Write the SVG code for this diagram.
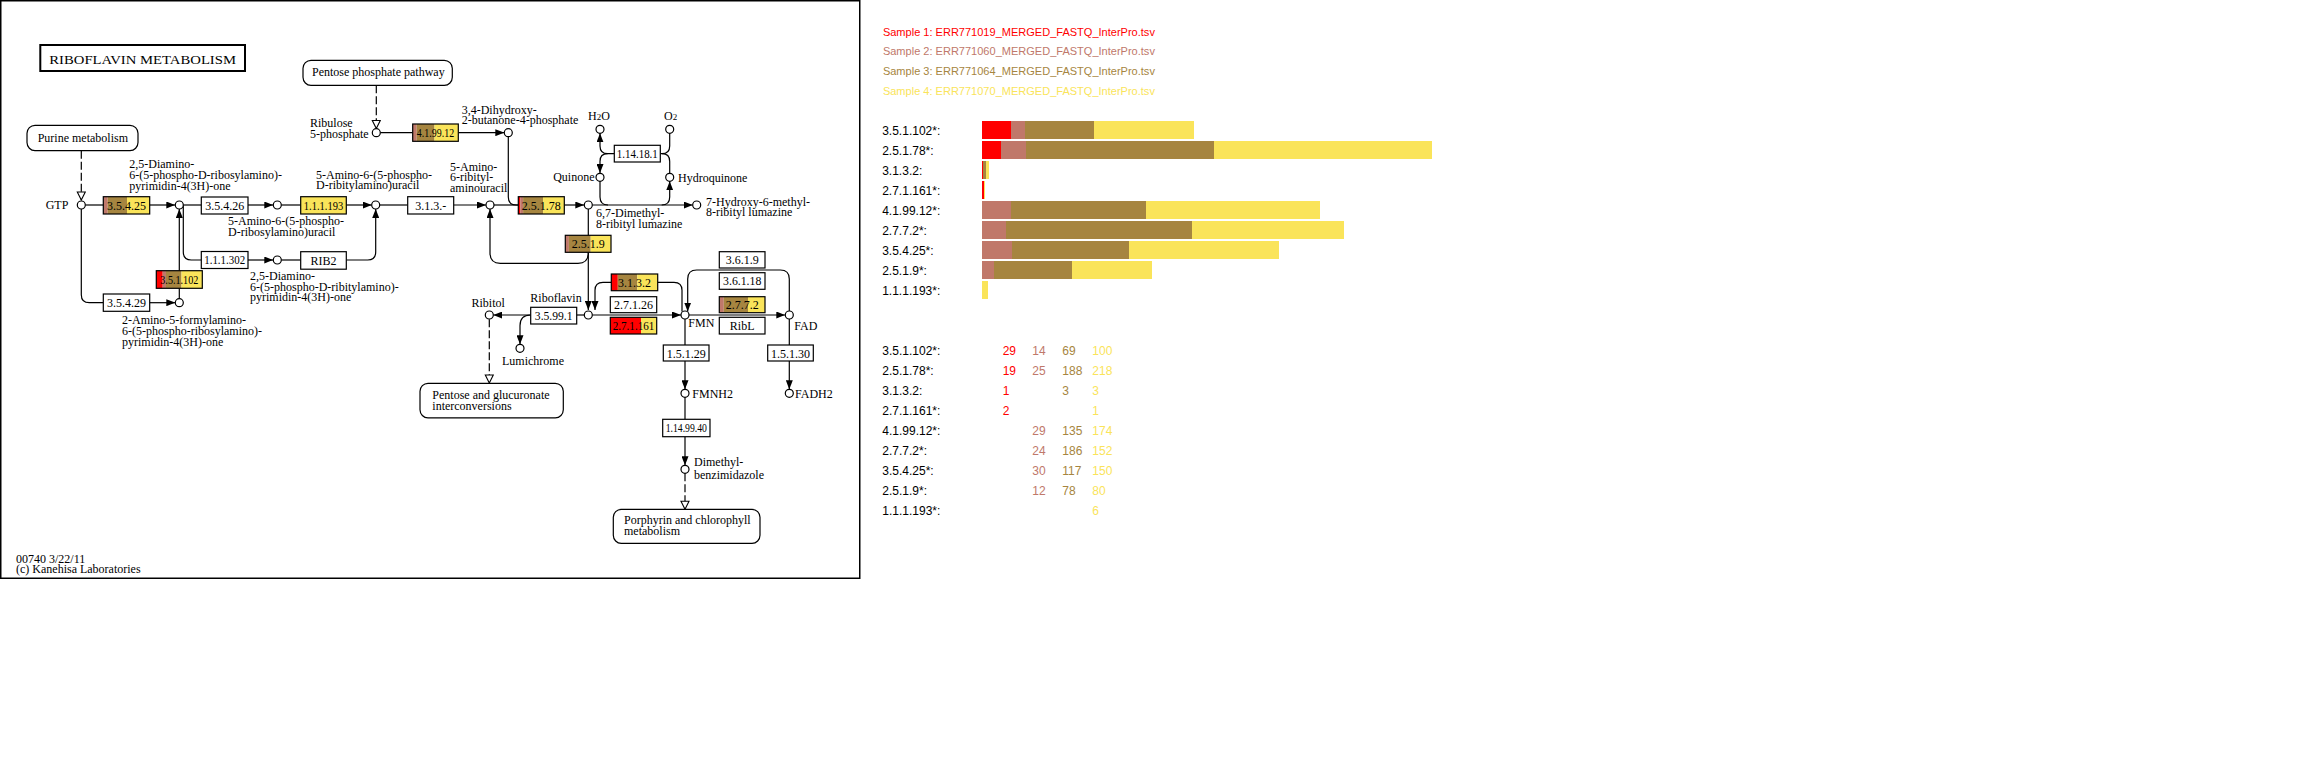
<svg xmlns="http://www.w3.org/2000/svg" width="2312" height="779" viewBox="0 0 2312 779">
<style>
.ln{fill:none;stroke:#000;stroke-width:1.2}
.ar{marker-end:url(#a)}
.ds{stroke-dasharray:8 3;marker-end:url(#h)}
.cp{fill:#fff;stroke:#000;stroke-width:1.2}
.bx{fill:#fff;stroke:#000;stroke-width:1.2}
.bo{fill:none;stroke:#000;stroke-width:1.2}
.t{font-family:"Liberation Serif","Times New Roman",serif;font-size:12px;fill:#000}
.tc{text-anchor:middle}
.te{text-anchor:end}
.sn{font-family:"Liberation Sans",Arial,sans-serif}
.s1{fill:#FF0000}.s2{fill:#C0786A}.s3{fill:#A68540}.s4{fill:#FAE45A}
</style>
<defs>
<marker id="a" viewBox="0 0 9 7" refX="9" refY="3.5" markerWidth="9" markerHeight="7" markerUnits="userSpaceOnUse" orient="auto"><path d="M0,0L9,3.5L0,7z" fill="#000"/></marker>
<marker id="h" viewBox="0 0 10 10" refX="9.5" refY="5" markerWidth="10" markerHeight="10" markerUnits="userSpaceOnUse" orient="auto"><path d="M1.5,1L9.5,5L1.5,9z" fill="#fff" stroke="#000" stroke-width="1.1"/></marker>
</defs>
<rect width="2312" height="779" fill="#fff"/>
<rect x="0.75" y="0.75" width="859" height="577.5" fill="none" stroke="#000" stroke-width="1.5"/>

<g id="title"><rect x="40.3" y="45" width="204.7" height="26" fill="#fff" stroke="#000" stroke-width="2"/><text class="t" x="49.3" y="64" font-size="14" textLength="186.7" lengthAdjust="spacingAndGlyphs">RIBOFLAVIN METABOLISM</text></g>

<g id="connectors">
<path class="ln ds" d="M81.3,150.7V200"/>
<path class="ln" d="M85.3,205H103.3"/>
<path class="ln ar" d="M149.7,205H175.3"/>
<path class="ln" d="M81.3,209V294.7Q81.3,302.7 89.3,302.7H103.3"/>
<path class="ln ar" d="M149.7,302.7H175.3"/>
<path class="ln" d="M179.3,298.7V288"/>
<path class="ln ar" d="M179.3,270.7V209"/>
<path class="ln" d="M183.3,205H201.3"/>
<path class="ln ar" d="M248,205H273.3"/>
<path class="ln" d="M183.3,205V252Q183.3,260 191.3,260H201.3"/>
<path class="ln ar" d="M248,260H273.3"/>
<path class="ln" d="M281.3,260H300.7"/>
<path class="ln ar" d="M346.3,260H367.7Q375.7,260 375.7,252V209"/>
<path class="ln" d="M281.3,205H300.7"/>
<path class="ln ar" d="M346.3,205H371.7"/>
<path class="ln" d="M379.7,205H407.7"/>
<path class="ln ar" d="M453.7,205H486"/>
<path class="ln" d="M494,205H518.3"/>
<path class="ln" d="M508.3,136.7V197Q508.3,205 516.3,205H518.3"/>
<path class="ln ds" d="M376.3,85.3V128.5"/>
<path class="ln" d="M380.3,132.7H412.7"/>
<path class="ln ar" d="M458.3,132.7H504.3"/>
<path class="ln ar" d="M564.3,205H584.3"/>
<path class="ln ar" d="M592.3,205H692.7"/>
<path class="ln" d="M600,181.3V197Q600,205 608,205"/>
<path class="ln ar" d="M661.7,205Q669.7,205 669.7,197V181.3"/>
<path class="ln ar" d="M614.3,153.7H607.7Q600,153.7 600,146V133.3"/>
<path class="ln ar" d="M607.7,153.7Q600,153.7 600,161.4V173"/>
<path class="ln" d="M669.7,133.3V146Q669.7,153.7 662,153.7H660.3"/>
<path class="ln" d="M662,153.7Q669.7,153.7 669.7,161.4V173"/>
<path class="ln" d="M588.3,209V235.3"/>
<path class="ln ar" d="M588.3,252.3V310"/>
<path class="ln ar" d="M588.3,253Q588.3,263.3 578,263.3H500.3Q490,263.3 490,253V209"/>
<path class="ln ar" d="M611.3,282.3H603Q595,282.3 595,290.3V310"/>
<path class="ln" d="M657.7,282.3H674Q682,282.3 682,290.3V311.5"/>
<path class="ln ar" d="M592.3,315H681"/>
<path class="ln" d="M584.3,315H576.7"/>
<path class="ln ar" d="M530.7,315H493.3"/>
<path class="ln ar" d="M530.7,315Q520,315 520,325.7V344.3"/>
<path class="ln ds" d="M489.3,319.3V383"/>
<path class="ln ar" d="M689,315H785.3"/>
<path class="ln ar" d="M789.3,311V279Q789.3,270 780.3,270H696.7Q687.7,270 687.7,279V311.5"/>
<path class="ln" d="M685,319V345"/>
<path class="ln ar" d="M685,361V389.3"/>
<path class="ln" d="M789.3,319V345"/>
<path class="ln ar" d="M789.3,361V389.3"/>
<path class="ln" d="M685,397.3V419.3"/>
<path class="ln ar" d="M685,436.7V465.3"/>
<path class="ln ds" d="M685,473.3V509.3"/>
</g>

<g id="map-purine"><rect class="bx" x="27" y="125.3" width="111" height="25.3" rx="8"/><text class="t" x="37.7" y="141.5">Purine metabolism</text></g>
<g id="map-ppp"><rect class="bx" x="303" y="60.3" width="149.3" height="25" rx="8"/><text class="t" x="312" y="76">Pentose phosphate pathway</text></g>
<g id="map-pentose"><rect class="bx" x="420" y="383.3" width="143.3" height="34.5" rx="8"/><text class="t" x="432.3" y="399"><tspan>Pentose and glucuronate</tspan><tspan x="432.3" y="409.5">interconversions</tspan></text></g>
<g id="map-porphyrin"><rect class="bx" x="613.3" y="509.3" width="146.7" height="34" rx="8"/><text class="t" x="624" y="524"><tspan>Porphyrin and chlorophyll</tspan><tspan x="624" y="535">metabolism</tspan></text></g>

<g id="c-gtp"><circle class="cp" cx="81.3" cy="205" r="4"/><text class="t" x="45.7" y="209">GTP</text></g>
<g id="c-a"><circle class="cp" cx="179.3" cy="205" r="4"/><text class="t" x="129.3" y="168"><tspan>2,5-Diamino-</tspan><tspan x="129.3" y="179">6-(5-phospho-D-ribosylamino)-</tspan><tspan x="129.3" y="190">pyrimidin-4(3H)-one</tspan></text></g>
<g id="c-b"><circle class="cp" cx="277.3" cy="205" r="4"/><text class="t" x="228" y="225"><tspan>5-Amino-6-(5-phospho-</tspan><tspan x="228" y="235.5">D-ribosylamino)uracil</tspan></text></g>
<g id="c-c"><circle class="cp" cx="277.3" cy="260" r="4"/><text class="t" x="250" y="280"><tspan>2,5-Diamino-</tspan><tspan x="250" y="290.5">6-(5-phospho-D-ribitylamino)-</tspan><tspan x="250" y="301">pyrimidin-4(3H)-one</tspan></text></g>
<g id="c-d"><circle class="cp" cx="375.7" cy="205" r="4"/><text class="t" x="316" y="178.5"><tspan>5-Amino-6-(5-phospho-</tspan><tspan x="316" y="189">D-ribitylamino)uracil</tspan></text></g>
<g id="c-e"><circle class="cp" cx="490" cy="205" r="4"/><text class="t" x="450" y="170.5"><tspan>5-Amino-</tspan><tspan x="450" y="181">6-ribityl-</tspan><tspan x="450" y="191.5">aminouracil</tspan></text></g>
<g id="c-f"><circle class="cp" cx="179.3" cy="302.7" r="4"/><text class="t" x="122" y="324.3"><tspan>2-Amino-5-formylamino-</tspan><tspan x="122" y="335.3">6-(5-phospho-ribosylamino)-</tspan><tspan x="122" y="346">pyrimidin-4(3H)-one</tspan></text></g>
<g id="c-rib5p"><circle class="cp" cx="376.3" cy="132.7" r="4"/><text class="t" x="310" y="127"><tspan>Ribulose</tspan><tspan x="310" y="137.5">5-phosphate</tspan></text></g>
<g id="c-dhbp"><circle class="cp" cx="508.3" cy="132.7" r="4"/><text class="t" x="461.7" y="113.7"><tspan>3,4-Dihydroxy-</tspan><tspan x="461.7" y="124.3">2-butanone-4-phosphate</tspan></text></g>
<g id="c-lumazine"><circle class="cp" cx="588.3" cy="205" r="4"/><text class="t" x="596" y="216.7"><tspan>6,7-Dimethyl-</tspan><tspan x="596" y="227.5">8-ribityl lumazine</tspan></text></g>
<g id="c-7h"><circle class="cp" cx="696.7" cy="205" r="4"/><text class="t" x="706" y="206"><tspan>7-Hydroxy-6-methyl-</tspan><tspan x="706" y="216.3">8-ribityl lumazine</tspan></text></g>
<g id="c-quinone"><circle class="cp" cx="600" cy="177.3" r="4"/><text class="t te" x="594.5" y="181">Quinone</text></g>
<g id="c-hydroquinone"><circle class="cp" cx="669.7" cy="177.3" r="4"/><text class="t" x="678" y="181.5">Hydroquinone</text></g>
<g id="c-h2o"><circle class="cp" cx="600" cy="129.3" r="4"/><text class="t" x="588" y="119.5">H<tspan font-size="9">2</tspan>O</text></g>
<g id="c-o2"><circle class="cp" cx="669.7" cy="129.3" r="4"/><text class="t" x="664" y="119.5">O<tspan font-size="9">2</tspan></text></g>
<g id="c-riboflavin"><circle class="cp" cx="588.3" cy="315" r="4"/><text class="t te" x="581.7" y="302.3">Riboflavin</text></g>
<g id="c-ribitol"><circle class="cp" cx="489.3" cy="315" r="4"/><text class="t tc" x="488.2" y="307">Ribitol</text></g>
<g id="c-lumichrome"><circle class="cp" cx="520" cy="348.3" r="4"/><text class="t" x="502" y="365">Lumichrome</text></g>
<g id="c-fmn"><circle class="cp" cx="685" cy="315" r="4"/><text class="t" x="688.3" y="327.3">FMN</text></g>
<g id="c-fad"><circle class="cp" cx="789.3" cy="315" r="4"/><text class="t" x="794.3" y="330">FAD</text></g>
<g id="c-fmnh2"><circle class="cp" cx="685" cy="393.3" r="4"/><text class="t" x="692.3" y="397.5">FMNH2</text></g>
<g id="c-fadh2"><circle class="cp" cx="789.3" cy="393.3" r="4"/><text class="t" x="795" y="397.5">FADH2</text></g>
<g id="c-dmb"><circle class="cp" cx="685" cy="469.3" r="4"/><text class="t" x="694" y="466"><tspan>Dimethyl-</tspan><tspan x="694" y="478.5">benzimidazole</tspan></text></g>

<g id="e-3-5-4-25"><rect class="s2" x="103.3" y="196.7" width="4.4" height="17.3"/><rect class="s3" x="107.7" y="196.7" width="19.3" height="17.3"/><rect class="s4" x="127" y="196.7" width="22.7" height="17.3"/><rect class="bo" x="103.3" y="196.7" width="46.4" height="17.3"/><text class="t tc" x="126.5" y="209.8">3.5.4.25</text></g>
<g id="e-3-5-4-26"><rect class="bx" x="201.3" y="197" width="46.7" height="17"/><text class="t tc" x="224.7" y="209.8">3.5.4.26</text></g>
<g id="e-1-1-1-302"><rect class="bx" x="201.3" y="251.5" width="46.7" height="17"/><text class="t tc" x="224.7" y="264.3" textLength="41" lengthAdjust="spacingAndGlyphs">1.1.1.302</text></g>
<g id="e-3-5-1-102"><rect class="s1" x="156.3" y="270.7" width="6.4" height="17.6"/><rect class="s2" x="162.7" y="270.7" width="3.3" height="17.6"/><rect class="s3" x="166" y="270.7" width="15.5" height="17.6"/><rect class="s4" x="181.5" y="270.7" width="20.8" height="17.6"/><rect class="bo" x="156.3" y="270.7" width="46" height="17.6"/><text class="t tc" x="179.3" y="283.8" textLength="38" lengthAdjust="spacingAndGlyphs">3.5.1.102</text></g>
<g id="e-3-5-4-29"><rect class="bx" x="103.3" y="294" width="46.4" height="17.3"/><text class="t tc" x="126.5" y="307">3.5.4.29</text></g>
<g id="e-1-1-1-193"><rect class="s4" x="300.7" y="196.7" width="45.6" height="17.3"/><rect class="bo" x="300.7" y="196.7" width="45.6" height="17.3"/><text class="t tc" x="323.5" y="209.8" textLength="39.3" lengthAdjust="spacingAndGlyphs">1.1.1.193</text></g>
<g id="e-rib2"><rect class="bx" x="300.7" y="251.7" width="45.6" height="17.5"/><text class="t tc" x="323.5" y="264.8">RIB2</text></g>
<g id="e-3-1-3-x"><rect class="bx" x="407.7" y="196.7" width="46" height="17.3"/><text class="t tc" x="430.7" y="209.8">3.1.3.-</text></g>
<g id="e-4-1-99-12"><rect class="s2" x="412.7" y="124" width="4" height="17.3"/><rect class="s3" x="416.7" y="124" width="17.8" height="17.3"/><rect class="s4" x="434.5" y="124" width="23.8" height="17.3"/><rect class="bo" x="412.7" y="124" width="45.6" height="17.3"/><text class="t tc" x="435.5" y="137" textLength="37.3" lengthAdjust="spacingAndGlyphs">4.1.99.12</text></g>
<g id="e-2-5-1-78"><rect class="s1" x="518.3" y="196.7" width="2" height="17.3"/><rect class="s2" x="520.3" y="196.7" width="2.8" height="17.3"/><rect class="s3" x="523.1" y="196.7" width="20" height="17.3"/><rect class="s4" x="543.1" y="196.7" width="21.2" height="17.3"/><rect class="bo" x="518.3" y="196.7" width="46" height="17.3"/><text class="t tc" x="541.3" y="209.8">2.5.1.78</text></g>
<g id="e-1-14-18-1"><rect class="bx" x="614.3" y="145.3" width="46" height="16.7"/><text class="t tc" x="637.3" y="158" textLength="41" lengthAdjust="spacingAndGlyphs">1.14.18.1</text></g>
<g id="e-2-5-1-9"><rect class="s2" x="565.3" y="235.3" width="3.6" height="17"/><rect class="s3" x="568.9" y="235.3" width="21.8" height="17"/><rect class="s4" x="590.7" y="235.3" width="20.3" height="17"/><rect class="bo" x="565.3" y="235.3" width="45.7" height="17"/><text class="t tc" x="588.2" y="248">2.5.1.9</text></g>
<g id="e-3-1-3-2"><rect class="s1" x="611.3" y="274" width="6.5" height="16.7"/><rect class="s3" x="617.8" y="274" width="19.5" height="16.7"/><rect class="s4" x="637.3" y="274" width="20.4" height="16.7"/><rect class="bo" x="611.3" y="274" width="46.4" height="16.7"/><text class="t tc" x="634.5" y="286.8">3.1.3.2</text></g>
<g id="e-2-7-1-26"><rect class="bx" x="610.3" y="296.7" width="46.4" height="16"/><text class="t tc" x="633.5" y="309">2.7.1.26</text></g>
<g id="e-2-7-1-161"><rect class="s1" x="610.3" y="317.3" width="30.7" height="16.7"/><rect class="s4" x="641" y="317.3" width="15.7" height="16.7"/><rect class="bo" x="610.3" y="317.3" width="46.4" height="16.7"/><text class="t tc" x="633.5" y="330" textLength="41.7" lengthAdjust="spacingAndGlyphs">2.7.1.161</text></g>
<g id="e-3-6-1-9"><rect class="bx" x="719.3" y="251.7" width="45.7" height="16.3"/><text class="t tc" x="742.2" y="264.2">3.6.1.9</text></g>
<g id="e-3-6-1-18"><rect class="bx" x="719.3" y="272.7" width="45.7" height="16.6"/><text class="t tc" x="742.2" y="285.3" textLength="38.3" lengthAdjust="spacingAndGlyphs">3.6.1.18</text></g>
<g id="e-2-7-7-2"><rect class="s2" x="719.3" y="296.7" width="4.5" height="16"/><rect class="s3" x="723.8" y="296.7" width="24.2" height="16"/><rect class="s4" x="748" y="296.7" width="17" height="16"/><rect class="bo" x="719.3" y="296.7" width="45.7" height="16"/><text class="t tc" x="742.2" y="309">2.7.7.2</text></g>
<g id="e-ribl"><rect class="bx" x="719.3" y="317.3" width="45.7" height="16.7"/><text class="t tc" x="742.2" y="330">RibL</text></g>
<g id="e-3-5-99-1"><rect class="bx" x="530.7" y="307.3" width="46" height="16.7"/><text class="t tc" x="553.7" y="320" textLength="37.7" lengthAdjust="spacingAndGlyphs">3.5.99.1</text></g>
<g id="e-1-5-1-29"><rect class="bx" x="663.3" y="345" width="45.7" height="16"/><text class="t tc" x="686.2" y="357.5">1.5.1.29</text></g>
<g id="e-1-5-1-30"><rect class="bx" x="767.7" y="345" width="45.6" height="16"/><text class="t tc" x="790.5" y="357.5">1.5.1.30</text></g>
<g id="e-1-14-99-40"><rect class="bx" x="662.7" y="419.3" width="47.3" height="17.4"/><text class="t tc" x="686.3" y="432.3" textLength="41.3" lengthAdjust="spacingAndGlyphs">1.14.99.40</text></g>

<g id="footer"><text class="t" x="16" y="562.5">00740 3/22/11</text><text class="t" x="16" y="573">(c) Kanehisa Laboratories</text></g>

<g id="legend" class="sn" font-size="11">
<text class="s1" x="882.9" y="35.5" textLength="272" lengthAdjust="spacingAndGlyphs">Sample 1: ERR771019_MERGED_FASTQ_InterPro.tsv</text>
<text class="s2" x="882.9" y="55.3" textLength="272" lengthAdjust="spacingAndGlyphs">Sample 2: ERR771060_MERGED_FASTQ_InterPro.tsv</text>
<text class="s3" x="882.9" y="75.1" textLength="272" lengthAdjust="spacingAndGlyphs">Sample 3: ERR771064_MERGED_FASTQ_InterPro.tsv</text>
<text class="s4" x="882.9" y="94.9" textLength="272" lengthAdjust="spacingAndGlyphs">Sample 4: ERR771070_MERGED_FASTQ_InterPro.tsv</text>
</g>

<g id="bars">
<g class="sn" font-size="12" fill="#000">
<text x="882.2" y="135.3">3.5.1.102*:</text>
<text x="882.2" y="155.3">2.5.1.78*:</text>
<text x="882.2" y="175.3">3.1.3.2:</text>
<text x="882.2" y="195.3">2.7.1.161*:</text>
<text x="882.2" y="215.3">4.1.99.12*:</text>
<text x="882.2" y="235.3">2.7.7.2*:</text>
<text x="882.2" y="255.3">3.5.4.25*:</text>
<text x="882.2" y="275.3">2.5.1.9*:</text>
<text x="882.2" y="295.3">1.1.1.193*:</text>
</g>
<rect class="s1" x="982" y="121" width="29" height="18"/><rect class="s2" x="1011" y="121" width="14" height="18"/><rect class="s3" x="1025" y="121" width="69" height="18"/><rect class="s4" x="1094" y="121" width="100" height="18"/>
<rect class="s1" x="982" y="141" width="19" height="18"/><rect class="s2" x="1001" y="141" width="25" height="18"/><rect class="s3" x="1026" y="141" width="188" height="18"/><rect class="s4" x="1214" y="141" width="218" height="18"/>
<rect class="s1" x="982" y="161" width="1" height="18"/><rect class="s3" x="983" y="161" width="3" height="18"/><rect class="s4" x="986" y="161" width="3" height="18"/>
<rect class="s1" x="982" y="181" width="2" height="18"/><rect class="s4" x="984" y="181" width="1" height="18"/>
<rect class="s2" x="982" y="201" width="29" height="18"/><rect class="s3" x="1011" y="201" width="135" height="18"/><rect class="s4" x="1146" y="201" width="174" height="18"/>
<rect class="s2" x="982" y="221" width="24" height="18"/><rect class="s3" x="1006" y="221" width="186" height="18"/><rect class="s4" x="1192" y="221" width="152" height="18"/>
<rect class="s2" x="982" y="241" width="30" height="18"/><rect class="s3" x="1012" y="241" width="117" height="18"/><rect class="s4" x="1129" y="241" width="150" height="18"/>
<rect class="s2" x="982" y="261" width="12" height="18"/><rect class="s3" x="994" y="261" width="78" height="18"/><rect class="s4" x="1072" y="261" width="80" height="18"/>
<rect class="s4" x="982" y="281" width="6" height="18"/>
</g>

<g id="table" class="sn" font-size="12">
<g fill="#000">
<text x="882.3" y="355">3.5.1.102*:</text>
<text x="882.3" y="375">2.5.1.78*:</text>
<text x="882.3" y="395">3.1.3.2:</text>
<text x="882.3" y="415">2.7.1.161*:</text>
<text x="882.3" y="435">4.1.99.12*:</text>
<text x="882.3" y="455">2.7.7.2*:</text>
<text x="882.3" y="475">3.5.4.25*:</text>
<text x="882.3" y="495">2.5.1.9*:</text>
<text x="882.3" y="515">1.1.1.193*:</text>
</g>
<g class="s1"><text x="1002.7" y="355">29</text><text x="1002.7" y="375">19</text><text x="1002.7" y="395">1</text><text x="1002.7" y="415">2</text></g>
<g class="s2"><text x="1032.3" y="355">14</text><text x="1032.3" y="375">25</text><text x="1032.3" y="435">29</text><text x="1032.3" y="455">24</text><text x="1032.3" y="475">30</text><text x="1032.3" y="495">12</text></g>
<g class="s3"><text x="1062.3" y="355">69</text><text x="1062.3" y="375">188</text><text x="1062.3" y="395">3</text><text x="1062.3" y="435">135</text><text x="1062.3" y="455">186</text><text x="1062.3" y="475">117</text><text x="1062.3" y="495">78</text></g>
<g class="s4"><text x="1092.3" y="355">100</text><text x="1092.3" y="375">218</text><text x="1092.3" y="395">3</text><text x="1092.3" y="415">1</text><text x="1092.3" y="435">174</text><text x="1092.3" y="455">152</text><text x="1092.3" y="475">150</text><text x="1092.3" y="495">80</text><text x="1092.3" y="515">6</text></g>
</g>
</svg>
